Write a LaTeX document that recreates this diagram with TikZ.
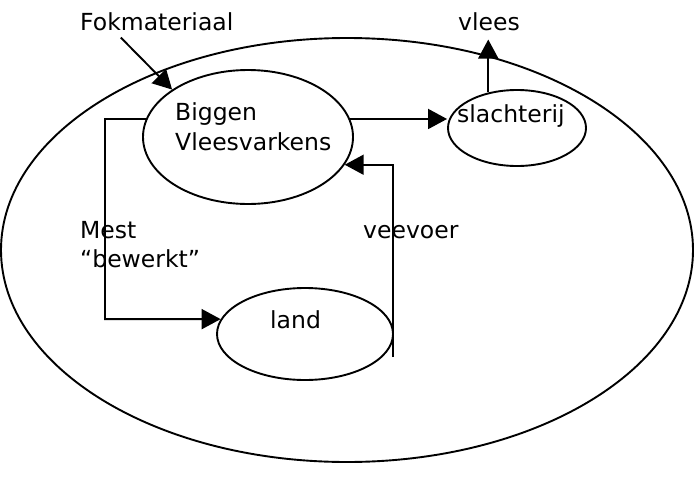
\documentclass[tikz,border=0pt]{standalone}
\usepackage{fontspec}
\setmainfont{DejaVu Sans}
\usetikzlibrary{arrows.meta,shapes.geometric}
\tikzset{
  kring/.style={draw, ellipse, inner sep=0pt, line width=1.9pt},
  tekst/.style={anchor=base west, inner sep=0pt, font=\fontsize{23.5}{28}\selectfont},
  pijl/.style={line width=1.9pt, -{Triangle[length=19pt,width=20pt]}}
}
\begin{document}
\begin{tikzpicture}[x=1pt,y=-1pt]
            \useasboundingbox (0,0) rectangle (694,482);
            \node[kring, minimum width=692pt, minimum height=424pt] (bedrijf) at (347,250) {};
            \node[kring, minimum width=210pt, minimum height=134pt] (biggen) at (248,137) {};
            \node[kring, minimum width=138pt, minimum height=76pt] (slacht) at (517,128) {};
            \node[kring, minimum width=176pt, minimum height=92pt] (land) at (305,334) {};
            \node[tekst] (fok) at (80,30) {Fokmateriaal};
            \node[tekst] (vlees) at (458,30) {vlees};
            \node[tekst] (big) at (175,120) {Biggen};
            \node[tekst] (vlv) at (175,150) {Vleesvarkens};
            \node[tekst] (slt) at (457,122) {slachterij};
            \node[tekst] (mest) at (80,238) {Mest};
            \node[tekst] (bew) at (80,267) {“bewerkt”};
            \node[tekst] (voer) at (363,238) {veevoer};
            \node[tekst] (lnd) at (270,328) {land};
            \coordinate (mestknik) at (105,119);
            \coordinate (voerstart) at (393,357);
            \draw[pijl] ([xshift=-36pt,yshift=-7pt]fok.south) -- (biggen.148);
            \draw[pijl] (biggen.10) -- (biggen.10 -| slacht.west);
            \draw[pijl, shorten >=9pt] (slacht.129) -- (slacht.129 |- vlees.south);
            \draw[pijl] (biggen.170) -- (mestknik) |- (land.170);
            \draw[pijl] (voerstart) |- (biggen.-16);
        \end{tikzpicture}
\end{document}
